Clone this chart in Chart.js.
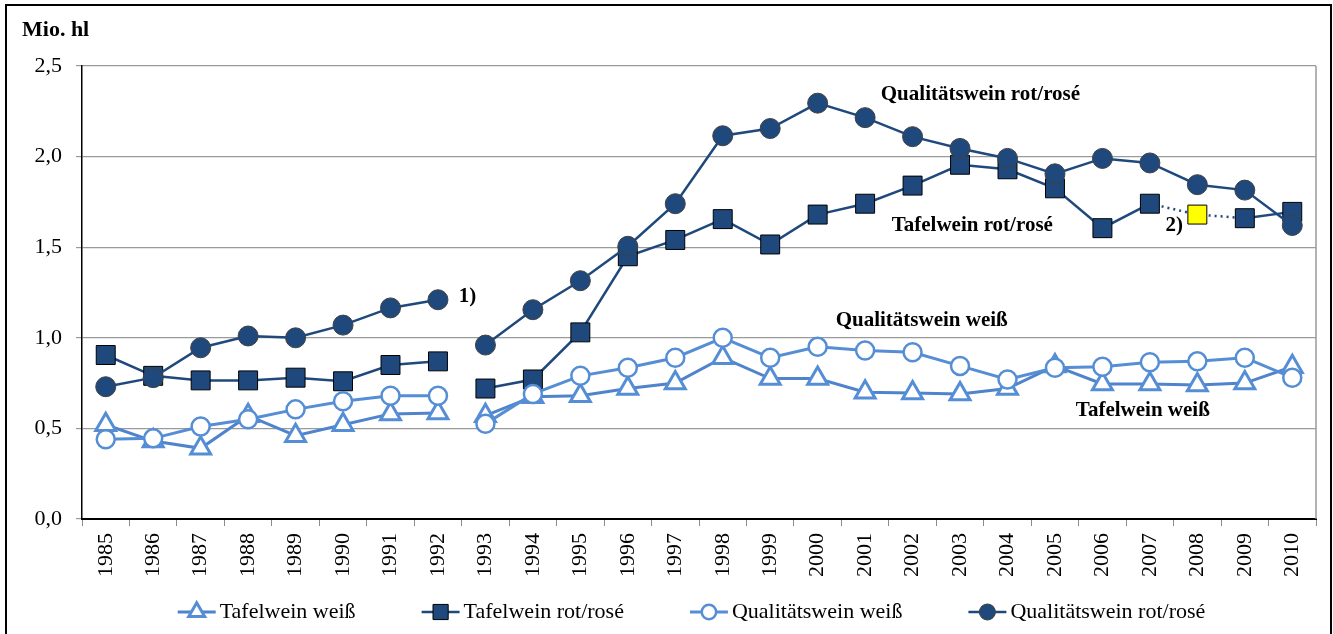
<!DOCTYPE html>
<html>
<head>
<meta charset="utf-8">
<script src="https://cdn.jsdelivr.net/npm/chart.js@4.4.0/dist/chart.umd.min.js"></script>
<style>
  html, body { margin: 0; padding: 0; background: #fff; }
  #wrap { position: relative; width: 1333px; height: 634px; overflow: hidden; }
  #wrap canvas { position: absolute; left: 0; top: 0; }
  #frame { position: absolute; left: 5px; top: 4px; width: 1327px; height: 700px;
           border: 2px solid #000; box-sizing: border-box; pointer-events: none; }
</style>
</head>
<body>
<div id="wrap">
  <canvas id="wine" width="1333" height="634"></canvas>
  <div id="frame"></div>
</div>
<script>
// Wine production, Mio. hl
const years = ['1985','1986','1987','1988','1989','1990','1991','1992','1993','1994','1995','1996','1997',
               '1998','1999','2000','2001','2002','2003','2004','2005','2006','2007','2008','2009','2010'];

const tafelWeiss = [0.52, 0.43, 0.39, 0.57, 0.46, 0.52, 0.58, 0.585, 0.57, 0.675, 0.68, 0.72, 0.75,
                    0.89, 0.775, 0.775, 0.70, 0.695, 0.69, 0.72, 0.845, 0.745, 0.745, 0.74, 0.75, 0.84];
const tafelRot   = [0.905, 0.79, 0.765, 0.765, 0.78, 0.76, 0.85, 0.87, 0.72, 0.77, 1.03, 1.45, 1.54,
                    1.655, 1.515, 1.68, 1.74, 1.84, 1.955, 1.93, 1.825, 1.605, 1.74, 1.68, 1.66, 1.695];
const qualWeiss  = [0.44, 0.445, 0.51, 0.55, 0.605, 0.65, 0.68, 0.68, 0.525, 0.69, 0.79, 0.835, 0.89,
                    1.0, 0.89, 0.95, 0.93, 0.92, 0.845, 0.77, 0.835, 0.84, 0.865, 0.87, 0.89, 0.78];
const qualRot    = [0.73, 0.78, 0.945, 1.01, 1.0, 1.07, 1.165, 1.21, 0.96, 1.155, 1.315, 1.505, 1.74,
                    2.115, 2.155, 2.295, 2.215, 2.11, 2.045, 1.99, 1.905, 1.99, 1.965, 1.845, 1.815, 1.62];

const seriesNames = ['Tafelwein weiß', 'Tafelwein rot/rosé', 'Qualitätswein weiß', 'Qualitätswein rot/rosé'];
const yTicks = [0, 0.5, 1.0, 1.5, 2.0, 2.5];

const breakAfter = 7;   // no line between 1992 and 1993  -> 1)
const estimated = 23;   // 2008 estimate, dotted           -> 2)

// text notes: category position, value
const noteTexts = ['Qualitätswein rot/rosé', 'Tafelwein rot/rosé', '2)', '1)', 'Qualitätswein weiß', 'Tafelwein weiß'];
const noteX     = [16.33, 16.56, 22.33, 7.44, 15.38, 20.44];
const noteY     = [2.34, 1.617, 1.617, 1.23, 1.093, 0.60];

const DARK = '#1F497D';
const LIGHT = '#558ED5';
const LIGHT2 = '#4F84CC';
const SERIF = "'Liberation Serif', 'Times New Roman', serif";
const LEGEND_BOX = 73;

const gapSegment = ctx => ctx.p0DataIndex === breakAfter ? 'rgba(0,0,0,0)' : undefined;

const datasets = [
  { label: seriesNames[0], data: tafelWeiss, order: 3,
    borderColor: LIGHT2, borderWidth: 3,
    pointStyle: 'triangle', pointRadius: 11.5, pointBorderWidth: 3,
    pointBackgroundColor: '#fff', pointBorderColor: LIGHT,
    segment: { borderColor: gapSegment } },
  { label: seriesNames[1], data: tafelRot, order: 2,
    borderColor: DARK, borderWidth: 2.5,
    pointStyle: 'rect', pointRadius: 13.4, pointBorderWidth: 1,
    pointBackgroundColor: tafelRot.map((v, i) => i === estimated ? '#FFFF00' : DARK),
    pointBorderColor: '#000',
    segment: {
      borderColor: gapSegment,
      borderDash: ctx => (ctx.p0DataIndex === estimated - 1 || ctx.p0DataIndex === estimated) ? [2, 4] : undefined,
    } },
  { label: seriesNames[2], data: qualWeiss, order: 1,
    borderColor: LIGHT, borderWidth: 3,
    pointStyle: 'circle', pointRadius: 9, pointBorderWidth: 2.5,
    pointBackgroundColor: '#fff', pointBorderColor: LIGHT,
    segment: { borderColor: gapSegment } },
  { label: seriesNames[3], data: qualRot, order: 0,
    borderColor: DARK, borderWidth: 2.5,
    pointStyle: 'circle', pointRadius: 10, pointBorderWidth: 1,
    pointBackgroundColor: DARK, pointBorderColor: '#404040',
    segment: { borderColor: gapSegment } },
];

// gray frame on the right side of the plot area
const plotFrame = {
  id: 'plotFrame',
  beforeDatasetsDraw(chart) {
    const { ctx, chartArea: a } = chart;
    ctx.save();
    ctx.strokeStyle = '#9a9a9a';
    ctx.lineWidth = 1.5;
    ctx.beginPath();
    ctx.moveTo(a.right, a.top);
    ctx.lineTo(a.right, a.bottom);
    ctx.stroke();
    ctx.restore();
  },
};

// series labels, footnote marks and unit
const notes = {
  id: 'notes',
  afterDatasetsDraw(chart) {
    const { ctx, chartArea: a } = chart;
    const { x, y } = chart.scales;
    ctx.save();
    ctx.fillStyle = '#000';
    ctx.font = 'bold 21px ' + SERIF;
    ctx.textAlign = 'left';
    ctx.textBaseline = 'middle';
    noteTexts.forEach((t, i) => {
      ctx.fillText(t, x.getPixelForValue(noteX[i]), y.getPixelForValue(noteY[i]));
    });
    ctx.font = 'bold 22px ' + SERIF;
    ctx.fillText('Mio. hl', a.left - 60, a.top - 36);
    ctx.restore();
  },
};

// line + marker symbols in the legend, right next to the text
const legendMarks = {
  id: 'legendMarks',
  afterDraw(chart) {
    const lg = chart.legend;
    if (!lg || !lg.legendHitBoxes) return;
    const { ctx } = chart;
    lg.legendHitBoxes.forEach((hb, i) => {
      const ds = chart.data.datasets[i];
      const cy = hb.top + 11;
      const x0 = hb.left + LEGEND_BOX + 11 - 42;
      ctx.save();
      ctx.strokeStyle = ds.borderColor;
      ctx.lineWidth = ds.borderWidth;
      ctx.beginPath();
      ctx.moveTo(x0, cy);
      ctx.lineTo(x0 + 38, cy);
      ctx.stroke();
      ctx.fillStyle = Array.isArray(ds.pointBackgroundColor) ? ds.pointBackgroundColor[0] : ds.pointBackgroundColor;
      ctx.strokeStyle = ds.pointBorderColor;
      ctx.lineWidth = ds.pointBorderWidth;
      Chart.helpers.drawPoint(ctx, {
        pointStyle: ds.pointStyle, radius: ds.pointRadius * 0.8, rotation: 0, borderWidth: ds.pointBorderWidth,
      }, x0 + 19, cy);
      ctx.restore();
    });
  },
};

new Chart(document.getElementById('wine'), {
  type: 'line',
  data: { labels: years, datasets },
  options: {
    responsive: false,
    animation: false,
    events: [],
    layout: { padding: { top: 66, left: 25, right: 17, bottom: 1 } },
    elements: { line: { tension: 0, fill: false } },
    plugins: {
      tooltip: { enabled: false },
      legend: {
        position: 'bottom',
        labels: {
          boxWidth: LEGEND_BOX, boxHeight: 3, padding: 24,
          color: '#000', font: { family: SERIF, size: 22 },
          generateLabels: chart => chart.data.datasets.map((ds, i) => ({
            text: ds.label, fillStyle: 'rgba(0,0,0,0)', strokeStyle: 'rgba(0,0,0,0)',
            lineWidth: 0, hidden: false, datasetIndex: i, fontColor: '#000',
          })),
        },
      },
    },
    scales: {
      x: {
        offset: true,
        afterFit: s => { s.height = 58; },
        border: { color: '#000', width: 2 },
        grid: { offset: true, drawOnChartArea: false, color: '#8c8c8c', tickLength: 7 },
        ticks: {
          autoSkip: false, minRotation: 90, maxRotation: 90, padding: 7,
          color: '#000', font: { family: SERIF, size: 22 },
        },
      },
      y: {
        min: 0, max: 2.5,
        afterFit: s => { s.width = 57; },
        afterBuildTicks: s => { s.ticks = yTicks.map(v => ({ value: v })); },
        border: { color: '#000', width: 1.5 },
        grid: { color: '#9a9a9a', lineWidth: 1.2, tickLength: 6 },
        ticks: {
          padding: 14, color: '#000', font: { family: SERIF, size: 22 },
          callback: v => v.toFixed(1).replace('.', ','),
        },
      },
    },
  },
  plugins: [plotFrame, notes, legendMarks],
});
</script>
</body>
</html>
